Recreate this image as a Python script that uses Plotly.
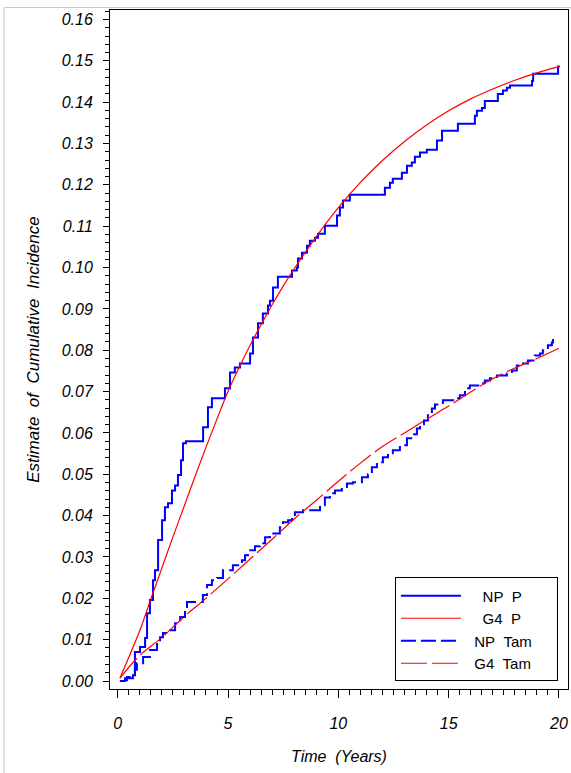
import plotly.graph_objects as go

# ---------------- data ----------------
np_p_t = [0.10, 0.33, 0.69, 0.78, 1.01, 1.24, 1.33, 1.46, 1.60, 1.69, 1.83, 2.01, 2.14, 2.28, 2.46,
          2.60, 2.73, 2.87, 2.96, 3.09, 3.87, 4.09, 4.27, 4.86, 5.09, 5.31, 5.54, 6.00, 6.13, 6.36,
          6.58, 6.81, 6.90, 7.04, 7.26, 7.90, 8.12, 8.17, 8.35, 8.58, 8.71, 8.94, 9.08, 9.39, 9.94,
          10.07, 10.21, 10.52, 12.11, 12.34, 12.47, 12.88, 13.11, 13.33, 13.47, 13.70, 14.01, 14.47,
          14.70, 15.42, 16.19, 16.28, 16.51, 16.64, 17.23, 17.46, 17.64, 17.78, 18.78, 18.83, 19.96, 20.04]
np_p_y = [0.000, 0.0007, 0.0014, 0.0070, 0.0082, 0.0104, 0.0164, 0.0196, 0.0244, 0.0268, 0.0341, 0.0389,
          0.0420, 0.0430, 0.0461, 0.0473, 0.0498, 0.0534, 0.0575, 0.0580, 0.0614, 0.0662, 0.0684, 0.0708,
          0.0746, 0.0758, 0.0768, 0.0792, 0.0831, 0.0865, 0.0889, 0.0908, 0.0920, 0.0952, 0.0978, 0.0993,
          0.1000, 0.1022, 0.1036, 0.1053, 0.1065, 0.1072, 0.1082, 0.1101, 0.1126, 0.1145, 0.1162, 0.1176,
          0.1193, 0.1205, 0.1215, 0.1229, 0.1246, 0.1254, 0.1268, 0.1278, 0.1285, 0.1307, 0.1331, 0.1348,
          0.1367, 0.1379, 0.1386, 0.1403, 0.1420, 0.1428, 0.1435, 0.1440, 0.1452, 0.1469, 0.1486, 0.1486]

g4_p_t = [0.10, 1.0, 1.5, 2.0, 2.5, 3.0, 3.5, 4.0, 4.5, 5.0, 5.5, 6.0, 6.5, 7.0, 7.5, 8.0, 9.0, 10.0,
          11.0, 12.0, 13.0, 14.0, 15.0, 16.0, 17.0, 18.0, 19.0, 20.0]
g4_p_y = [0.0007, 0.0122, 0.0198, 0.0273, 0.0348, 0.0421, 0.0494, 0.0565, 0.0634, 0.0700, 0.0758, 0.0812,
          0.0862, 0.0910, 0.0955, 0.0997, 0.1075, 0.1145, 0.1206, 0.1259, 0.1305, 0.1345, 0.1379, 0.1408,
          0.1432, 0.1453, 0.1471, 0.1486]

np_tam_t = [0.10, 0.33, 0.42, 0.78, 0.87, 1.15, 1.46, 1.78, 1.92, 2.05, 2.37, 2.60, 2.83, 3.05, 3.14,
            3.86, 4.05, 4.27, 4.50, 4.77, 5.22, 5.63, 5.77, 5.90, 6.22, 6.45, 6.68, 6.90, 7.35, 7.49,
            7.72, 7.90, 8.03, 8.40, 9.17, 9.39, 9.62, 9.85, 10.16, 10.39, 10.66, 11.07, 11.34, 11.52,
            11.75, 12.02, 12.25, 12.47, 12.79, 13.11, 13.38, 13.56, 13.70, 13.88, 14.06, 14.24, 14.38,
            14.74, 15.28, 15.51, 15.74, 15.96, 16.42, 16.64, 16.87, 17.19, 17.64, 17.87, 18.09, 18.37,
            18.59, 18.91, 19.14, 19.27, 19.50, 19.68, 19.73, 19.91]
np_tam_y = [0.0000, 0.0002, 0.0010, 0.0027, 0.0043, 0.0058, 0.0075, 0.0092, 0.0106, 0.0116, 0.0123,
            0.0140, 0.0155, 0.0171, 0.0191, 0.0208, 0.0232, 0.0244, 0.0249, 0.0268, 0.0280, 0.0292,
            0.0304, 0.0316, 0.0326, 0.0333, 0.0348, 0.0357, 0.0372, 0.0384, 0.0389, 0.0399, 0.0408,
            0.0413, 0.0425, 0.0444, 0.0454, 0.0461, 0.0469, 0.0478, 0.0481, 0.0493, 0.0500, 0.0517,
            0.0529, 0.0541, 0.0551, 0.0558, 0.0570, 0.0587, 0.0597, 0.0611, 0.0621, 0.0630, 0.0643,
            0.0659, 0.0669, 0.0679, 0.0684, 0.0691, 0.0708, 0.0715, 0.0720, 0.0727, 0.0732, 0.0739,
            0.0744, 0.0751, 0.0763, 0.0768, 0.0775, 0.0787, 0.0792, 0.0800, 0.0812, 0.0819, 0.0829, 0.0829]

g4_tam_t = [0.10, 1.0, 2.0, 3.0, 4.0, 5.0, 6.0, 7.0, 8.0, 9.0, 10.0, 11.0, 12.0, 13.0, 14.0, 15.0,
            16.0, 17.0, 18.0, 19.0, 20.0]
g4_tam_y = [0.0007, 0.0062, 0.0105, 0.0155, 0.0200, 0.0247, 0.0295, 0.0343, 0.0392, 0.0437, 0.0483,
            0.0527, 0.0567, 0.0600, 0.0633, 0.0665, 0.0699, 0.0731, 0.0757, 0.0780, 0.0805]

x_ticks = [0, 5, 10, 15, 20]
NB = "\u00a0"
names = [NB * 4 + "NP" + NB * 2 + "P" + NB * 7,
         NB * 4 + "G4" + NB * 2 + "P",
         NB * 2 + "NP" + NB * 2 + "Tam",
         NB * 2 + "G4" + NB * 2 + "Tam"]

FONT = "Liberation Sans, Arial, Helvetica, sans-serif"

fig = go.Figure()
fig.add_trace(go.Scatter(x=np_p_t, y=np_p_y, mode="lines", line=dict(color="#0000FF", width=2, shape="hv"),
                         name=names[0]))
fig.add_trace(go.Scatter(x=g4_p_t, y=g4_p_y, mode="lines", line=dict(color="#FF0000", width=1.2, shape="spline"),
                         name=names[1]))
fig.add_trace(go.Scatter(x=np_tam_t, y=np_tam_y, mode="lines",
                         line=dict(color="#0000FF", width=2, shape="hv", dash="15px,5px"), name=names[2]))
fig.add_trace(go.Scatter(x=g4_tam_t, y=g4_tam_y, mode="lines",
                         line=dict(color="#FF0000", width=1.2, shape="spline", dash="26px,5px"), name=names[3]))

axis_common = dict(showline=True, linecolor="black", linewidth=1, mirror=True, ticks="outside",
                   tickcolor="black", showgrid=False, zeroline=False,
                   tickfont=dict(family=FONT, size=16, color="black", style="italic"))

fig.update_xaxes(range=[-0.35, 20.41], tickvals=x_ticks, ticklen=8, tickwidth=1,
                 ticklabelstandoff=12,
                 minor=dict(dtick=0.5, tick0=0, ticklen=5, ticks="outside", tickcolor="black"),
                 title=dict(text="Time" + NB * 2 + "(Years)", standoff=19,
                            font=dict(family=FONT, size=16, color="black", style="italic")),
                 **axis_common)
fig.update_yaxes(range=[-0.00193, 0.16229], dtick=0.01, tick0=0, tickformat=".2f", ticklen=6, tickwidth=1,
                 ticklabelstandoff=7,
                 minor=dict(dtick=0.002, tick0=0, ticklen=4, ticks="outside", tickcolor="black"),
                 title=dict(text="Estimate" + NB * 2 + "of" + NB * 2 + "Cumulative" + NB * 2 + "Incidence",
                            standoff=17,
                            font=dict(family=FONT, size=17, color="black", style="italic")),
                 **axis_common)

fig.update_layout(
    width=571, height=773,
    margin=dict(l=110, r=3, t=10, b=84, autoexpand=False),
    plot_bgcolor="white", paper_bgcolor="white",
    font=dict(family=FONT, size=16, color="black"),
    showlegend=True,
    legend=dict(x=0.978, y=0.0115, xanchor="right", yanchor="bottom", bgcolor="white",
                bordercolor="black", borderwidth=1, font=dict(family=FONT, size=15, color="black"),
                title=dict(text=" ", font=dict(size=1)),
                itemwidth=60, tracegroupgap=0),
    shapes=[
        dict(type="line", xref="paper", yref="paper", x0=-0.2314, x1=-0.2314, y0=1.0037, y1=-0.14,
             line=dict(color="#c8c8c8", width=1)),
        dict(type="line", xref="paper", yref="paper", x0=-0.2314, x1=1.01, y0=1.0037, y1=1.0037,
             line=dict(color="#c8c8c8", width=1)),
    ],
)

fig.write_html("out.html")
